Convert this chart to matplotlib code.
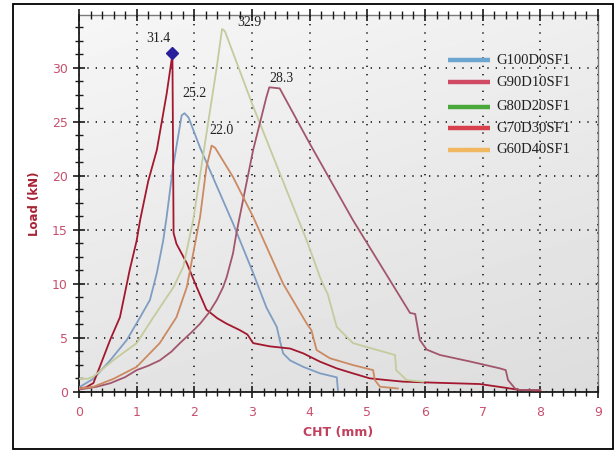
import numpy as np
import matplotlib
matplotlib.use('Agg')
import matplotlib.pyplot as plt
from matplotlib.patches import Rectangle
from matplotlib.ticker import MultipleLocator

# --- data (CHT in mm, load in kN) ---
labels = ['G100D0SF1', 'G90D10SF1', 'G80D20SF1', 'G70D30SF1', 'G60D40SF1']

g100_x = [0, 0.25, 0.54, 0.83, 1.06, 1.23, 1.35, 1.46, 1.52, 1.63, 1.78, 1.83, 1.9,
          2.1, 2.67, 3.02, 3.25, 3.43, 3.48, 3.54, 3.66, 3.89, 4.18, 4.47, 4.49]
g100_y = [0.4, 1.2, 2.9, 4.8, 6.9, 8.5, 11.0, 14.0, 16.2, 20.8, 25.6, 25.8, 25.4,
          22.6, 15.6, 11.0, 7.8, 6.0, 4.8, 3.55, 2.9, 2.3, 1.7, 1.33, 0.16]

g90_x = [0, 0.12, 0.25, 0.36, 0.54, 0.71, 0.88, 1.0, 1.06, 1.2, 1.35, 1.52, 1.61,
         1.62, 1.64, 1.69, 1.87, 2.04, 2.21, 2.4, 2.56, 2.79, 2.92, 3.02, 3.31,
         3.66, 3.89, 4.18, 4.47, 4.75, 5.04, 5.33, 5.62, 6.2, 6.95, 7.35, 7.64, 8.0]
g90_y = [0.3, 0.4, 0.8, 2.3, 4.8, 6.9, 11.3, 14.0, 15.9, 19.5, 22.4, 27.6, 30.9,
         31.4, 14.7, 13.7, 11.9, 9.7, 7.6, 6.8, 6.3, 5.7, 5.3, 4.5, 4.2,
         4.0, 3.55, 2.78, 2.16, 1.7, 1.24, 1.08, 0.93, 0.83, 0.71, 0.4, 0.16, 0.1]

g80_x = [0, 0.15, 0.25, 0.59, 1.0, 1.29, 1.64, 1.81, 1.98, 2.21, 2.39, 2.48, 2.53,
         3.0, 3.5, 3.95, 4.18, 4.27, 4.31, 4.47, 4.75, 5.48, 5.5, 5.68, 5.97]
g80_y = [1.2, 1.2, 1.4, 2.9, 4.5, 6.9, 9.7, 11.6, 15.9, 23.9, 30.1, 33.6, 33.4,
         26.7, 20.0, 14.0, 10.6, 9.5, 9.1, 6.0, 4.5, 3.4, 2.0, 1.08, 0.93]

g70_x = [0, 0.3, 0.54, 0.8, 1.0, 1.2, 1.4, 1.6, 1.75, 1.95, 2.1, 2.25, 2.39, 2.5,
         2.56, 2.67, 2.73, 3.02, 3.25, 3.3, 3.48, 4.0, 4.75, 5.74, 5.83, 5.91,
         6.03, 6.26, 6.78, 7.3, 7.4, 7.44, 7.56, 7.64, 8.0]
g70_y = [0.2, 0.45, 0.78, 1.35, 2.0, 2.4, 2.9, 3.7, 4.5, 5.5, 6.3, 7.3, 8.5, 9.7,
         10.6, 12.8, 14.7, 22.4, 27.3, 28.2, 28.1, 23.0, 15.9, 7.3, 7.2, 4.8,
         3.9, 3.4, 2.8, 2.16, 2.0, 1.08, 0.3, 0.16, 0.16]

g60_x = [0, 0.25, 0.6, 1.0, 1.4, 1.69, 1.87, 1.98, 2.1, 2.21, 2.3, 2.36, 2.67,
         3.02, 3.54, 3.95, 4.03, 4.12, 4.35, 4.75, 5.1, 5.13, 5.22, 5.53]
g60_y = [0.3, 0.46, 1.2, 2.3, 4.5, 6.9, 9.7, 12.8, 16.2, 20.8, 22.8, 22.6, 19.9,
         16.2, 10.0, 6.3, 5.7, 3.86, 3.1, 2.47, 2.0, 1.08, 0.46, 0.3]

peak_text = ['25.2', '31.4', '32.9', '28.3', '22.0']
peak_text_x = [2.01, 1.38, 2.95, 3.51, 2.47]
peak_text_y = [27.6, 32.7, 34.2, 29.0, 24.2]

curve_colors = ['#7f9dc2', '#a3182e', '#c4cb9c', '#a2566b', '#cc8a62']
legend_colors = ['#6aa6d0', '#d04a64', '#4aa83a', '#d8404c', '#f0b860']
tick_color = '#c8506e'

fig = plt.figure(figsize=(6.15, 4.51), dpi=100)
ax = fig.add_axes([79 / 615, (451 - 391.7) / 451, 519 / 615, 376.7 / 451])

# grey gradient background of the plot area (light at top, darker low right)
yy, xx = np.mgrid[0:1:200j, 0:1:200j]
grad = 0.965 - 0.07 * (1 - yy) - 0.03 * xx
ax.imshow(grad, extent=[0, 1, 0, 1], origin='lower', transform=ax.transAxes,
          aspect='auto', cmap='gray', vmin=0, vmax=1, zorder=0)

series = [(g100_x, g100_y), (g90_x, g90_y), (g80_x, g80_y),
          (g70_x, g70_y), (g60_x, g60_y)]
for (xs, ys), c in zip(series, curve_colors):
    ax.plot(xs, ys, color=c, linewidth=1.3, zorder=3)

# peak marker on G90D10SF1
ax.plot(g90_x[13], g90_y[13], marker='D', color='#2a1f9a', markersize=6, zorder=4)

for t, tx, ty in zip(peak_text, peak_text_x, peak_text_y):
    ax.text(tx, ty, t, ha='center', va='center', fontsize=10,
            family='Liberation Serif', color='#222222', zorder=5)

# legend drawn by hand (line + label)
leg_y = [0.880, 0.822, 0.756, 0.700, 0.642]
for lab, c, ly in zip(labels, legend_colors, leg_y):
    ax.plot([0.711, 0.792], [ly, ly], color=c, linewidth=3.2,
            transform=ax.transAxes, solid_capstyle='butt', zorder=5)
    ax.text(0.805, ly, lab, transform=ax.transAxes, ha='left', va='center',
            fontsize=10.5, family='Liberation Serif', color='#202020', zorder=5)

ax.set_xlim(0, 9)
ax.set_ylim(0, 34.9)
ax.xaxis.set_major_locator(MultipleLocator(1))
ax.xaxis.set_minor_locator(MultipleLocator(0.2))
ax.yaxis.set_major_locator(MultipleLocator(5))
ax.yaxis.set_minor_locator(MultipleLocator(1.25))

ax.grid(True, which='major', color='#1a1a1a', linestyle=(0, (0.8, 4.2)),
        linewidth=1.2, zorder=1)
ax.set_axisbelow(False)

ax.tick_params(axis='both', which='major', direction='inout', length=9,
               width=1.2, colors='#1a1a1a', labelcolor=tick_color, labelsize=9)
ax.tick_params(axis='both', which='minor', direction='inout', length=6,
               width=1.0, colors='#1a1a1a')
ax.tick_params(axis='x', which='both', top=True, labeltop=False)
ax.tick_params(axis='x', which='major', pad=6)

for side in ['left', 'bottom']:
    ax.spines[side].set_linewidth(1.3)
    ax.spines[side].set_color('#1a1a1a')
for side in ['top', 'right']:
    ax.spines[side].set_linewidth(1.0)
    ax.spines[side].set_color('#7a7a7a')

ax.set_xlabel('CHT (mm)', fontsize=9, fontweight='bold', color='#c0405e',
              labelpad=5)
ax.set_ylabel('Load (kN)', fontsize=8.5, fontweight='bold', color='#a82234',
              labelpad=8)

# outer frame around the whole picture
fig.patches.append(Rectangle((13 / 615, 2 / 451), 600 / 615, 445 / 451,
                             transform=fig.transFigure, fill=False,
                             edgecolor='black', linewidth=1.3))

fig.savefig('out.png', dpi=100)
